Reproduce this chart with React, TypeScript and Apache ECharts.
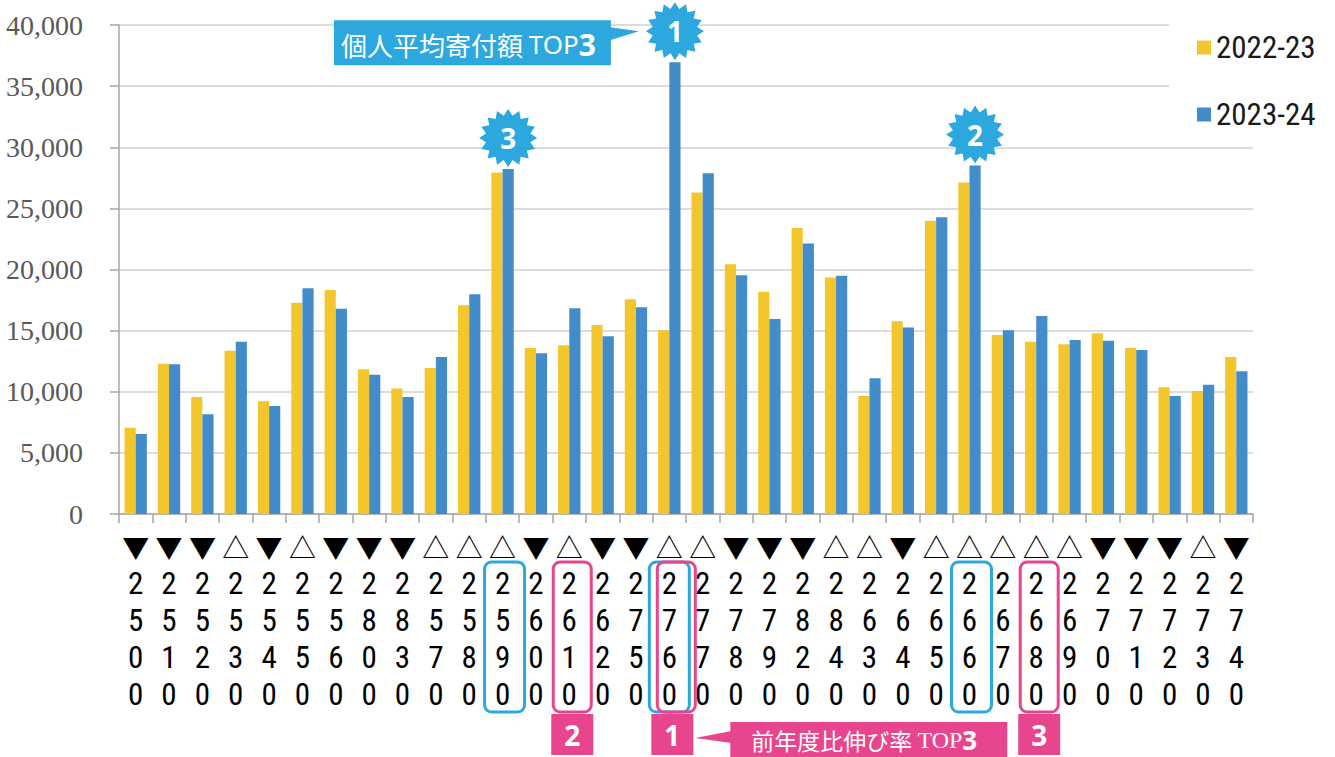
import React, { useEffect, useRef } from 'react';
import * as echarts from 'echarts';

const codes = ['2500','2510','2520','2530','2540','2550','2560','2800','2830','2570','2580','2590','2600','2610','2620','2750','2760','2770','2780','2790','2820','2840','2630','2640','2650','2660','2670','2680','2690','2700','2710','2720','2730','2740'];
const trends = ['▼','▼','▼','△','▼','△','▼','▼','▼','△','△','△','▼','△','▼','▼','△','△','▼','▼','▼','△','△','▼','△','△','△','△','△','▼','▼','▼','△','▼'];
const values2223 = [7050,12300,9570,13360,9220,17290,18330,11840,10260,11950,17080,27930,13580,13800,15470,17570,15030,26290,20430,18170,23400,19340,9660,15770,23980,27110,14650,14100,13880,14780,13580,10370,10070,12850];
const values2324 = [6550,12250,8160,14080,8840,18470,16780,11400,9570,12850,17980,28230,13150,16830,14540,16910,36960,27880,19530,15960,22120,19480,11100,15250,24280,28500,15030,16200,14240,14180,13420,9660,10580,11680];
const seriesNames = ['2022-23', '2023-24'];
const yMin = 0;
const yMax = 40000;
const yInterval = 5000;
// rank order 1, 2, 3
const avgTop = ['2760', '2660', '2590'];
const growthTop = ['2760', '2610', '2680'];
const avgTitle = '個人平均寄付額';
const growthTitle = '前年度比伸び率';

const COLOR_A = '#F4C62D';
const COLOR_B = '#438CCA';
const ACCENT_BLUE = '#2DA8DF';
const ACCENT_PINK = '#E8458F';
const NARROW = "'Liberation Sans Narrow', 'Roboto Condensed', Roboto, sans-serif";

function starPath(n: number, R: number, r: number): string {
  const pts: string[] = [];
  for (let i = 0; i < n * 2; i++) {
    const rad = i % 2 === 0 ? R : r;
    const a = -Math.PI / 2 + (Math.PI * i) / n;
    pts.push(`${(50 + rad * Math.cos(a)).toFixed(2)} ${(50 + rad * Math.sin(a)).toFixed(2)}`);
  }
  return 'path://M' + pts.join(' L') + ' Z';
}

export default function App() {
  const ref = useRef<HTMLDivElement>(null);
  useEffect(() => {
    document.body.style.margin = '0';
    const chart = echarts.init(ref.current!, null, { renderer: 'svg' });
    const option: any = {
      animation: false,
      backgroundColor: '#ffffff',
      grid: { left: 119, right: 82, top: 25, bottom: 243 },
      legend: {
        orient: 'vertical',
        left: 1169,
        top: 10,
        padding: [22, 10, 10, 28],
        itemGap: 36,
        itemWidth: 14,
        itemHeight: 14,
        icon: 'rect',
        backgroundColor: '#ffffff',
        data: seriesNames,
        textStyle: { fontFamily: NARROW, fontSize: 31, lineHeight: 30, color: '#1a1a1a' },
      },
      xAxis: {
        type: 'category',
        data: codes,
        axisLine: { lineStyle: { color: '#a6a6a6', width: 1.5 } },
        axisTick: { show: true, length: 9, interval: 0, lineStyle: { color: '#a6a6a6', width: 1.5 } },
        axisLabel: {
          interval: 0,
          margin: 14,
          formatter: (value: string, idx: number) =>
            `{t|${trends[idx]}}\n` + value.split('').map((ch) => `{d|${ch}}`).join('\n'),
          rich: {
            t: { fontFamily: "'Noto Sans CJK JP', sans-serif", fontSize: 27, lineHeight: 37, color: '#000' },
            d: { fontFamily: NARROW, fontSize: 31, lineHeight: 37, color: '#000' },
          },
        },
      },
      yAxis: {
        type: 'value',
        min: yMin,
        max: yMax,
        interval: yInterval,
        axisLine: { show: true, lineStyle: { color: '#a6a6a6', width: 1.5 } },
        axisTick: { show: true, length: 9, lineStyle: { color: '#a6a6a6', width: 1.5 } },
        splitLine: { lineStyle: { color: '#d0d0d0', width: 1.5 } },
        axisLabel: {
          margin: 36,
          fontFamily: "'Liberation Serif', serif",
          fontSize: 28,
          color: '#595959',
          formatter: (v: number) => v.toLocaleString('en-US'),
        },
      },
      series: [
        {
          name: seriesNames[0],
          type: 'bar',
          data: values2223,
          barGap: '0%',
          barCategoryGap: '33%',
          itemStyle: { color: COLOR_A },
        },
        {
          name: seriesNames[1],
          type: 'bar',
          data: values2324,
          barGap: '0%',
          barCategoryGap: '33%',
          itemStyle: { color: COLOR_B },
          markPoint: {
            symbol: starPath(16, 50, 39),
            symbolSize: 58,
            symbolOffset: [0, -31],
            itemStyle: { color: ACCENT_BLUE },
            label: {
              show: true,
              position: 'inside',
              color: '#fff',
              fontSize: 28,
              fontWeight: 'bold',
              fontFamily: "'Noto Sans', sans-serif",
              formatter: (p: any) => String(p.value),
            },
            data: avgTop.map((c, i) => ({ coord: [c, values2324[codes.indexOf(c)]], value: i + 1 })),
          },
        },
      ],
    };
    chart.setOption(option);

    const cx = (i: number) => chart.convertToPixel({ xAxisIndex: 0 }, i) as number;
    const yPx = (v: number) => chart.convertToPixel({ yAxisIndex: 0 }, v) as number;
    const base = yPx(0);
    const band = cx(1) - cx(0);
    const barW = (band * 0.67) / 2;
    const elements: any[] = [];

    // outline boxes around category labels
    avgTop.forEach((c) => {
      const i = codes.indexOf(c);
      const overlap = growthTop.includes(c);
      elements.push({
        type: 'rect', z: 50,
        shape: { x: cx(i) - 18 - (overlap ? 2 : 0), y: base + 48, width: 40, height: 150, r: 7 },
        style: { fill: 'none', stroke: ACCENT_BLUE, lineWidth: 3 },
      });
    });
    growthTop.forEach((c, rank) => {
      const i = codes.indexOf(c);
      const overlap = avgTop.includes(c);
      elements.push({
        type: 'rect', z: 51,
        shape: { x: cx(i) - 16 + (overlap ? 4 : 0), y: base + 48, width: 38, height: 150, r: 7 },
        style: { fill: 'none', stroke: ACCENT_PINK, lineWidth: 3 },
      });
      elements.push({
        type: 'rect', z: 52,
        shape: { x: cx(i) - 18, y: base + 200, width: 42, height: 41 },
        style: { fill: ACCENT_PINK },
      });
      elements.push({
        type: 'text', z: 53,
        x: cx(i) + 3, y: base + 221,
        style: {
          text: String(rank + 1), fill: '#fff', fontSize: 28, fontWeight: 'bold',
          fontFamily: "'Noto Sans', sans-serif", align: 'center', verticalAlign: 'middle',
        },
      });
    });

    // pink callout anchored to growth rank 1
    const g1 = codes.indexOf(growthTop[0]);
    const g1Right = cx(g1) + 24;
    const pinkLeft = g1Right + 37;
    elements.push({
      type: 'rect', z: 54,
      shape: { x: pinkLeft, y: base + 208, width: 277, height: 60 },
      style: { fill: ACCENT_PINK },
    });
    elements.push({
      type: 'polygon', z: 54,
      shape: { points: [[g1Right + 2, base + 224], [pinkLeft + 1, base + 217], [pinkLeft + 1, base + 229]] },
      style: { fill: ACCENT_PINK },
    });
    elements.push({
      type: 'text', z: 55,
      x: pinkLeft + 21, y: base + 226,
      style: {
        text: `{a|${growthTitle} }{b|TOP}{c|3}`,
        verticalAlign: 'middle',
        rich: {
          a: { fill: '#fff', fontSize: 23, lineHeight: 26, fontFamily: "'Noto Sans CJK JP', sans-serif" },
          b: { fill: '#fff', fontSize: 24, lineHeight: 26, fontFamily: "'Liberation Serif', serif" },
          c: { fill: '#fff', fontSize: 26, lineHeight: 26, fontWeight: 'bold', fontFamily: "'Noto Sans', sans-serif" },
        },
      },
    });

    // blue callout anchored to avg rank 1 star
    const a1 = codes.indexOf(avgTop[0]);
    const sx = cx(a1) + barW / 2;
    const sy = yPx(values2324[a1]) - 31;
    elements.push({
      type: 'rect', z: 54,
      shape: { x: sx - 341, y: sy - 11, width: 277, height: 45 },
      style: { fill: ACCENT_BLUE },
    });
    elements.push({
      type: 'polygon', z: 54,
      shape: { points: [[sx - 65, sy - 4], [sx - 36, sy], [sx - 65, sy + 9]] },
      style: { fill: ACCENT_BLUE },
    });
    elements.push({
      type: 'text', z: 55,
      x: sx - 334, y: sy + 13,
      style: {
        text: `{a|${avgTitle} }{b|TOP}{c|3}`,
        verticalAlign: 'middle',
        rich: {
          a: { fill: '#fff', fontSize: 26, fontFamily: "'Noto Sans CJK JP', sans-serif" },
          b: { fill: '#fff', fontSize: 26, fontFamily: "'Noto Sans', sans-serif" },
          c: { fill: '#fff', fontSize: 30, fontWeight: 'bold', fontFamily: "'Noto Sans', sans-serif" },
        },
      },
    });

    chart.setOption({ graphic: { elements } });
    return () => chart.dispose();
  }, []);
  return <div ref={ref} style={{ width: 1335, height: 757 }} />;
}
